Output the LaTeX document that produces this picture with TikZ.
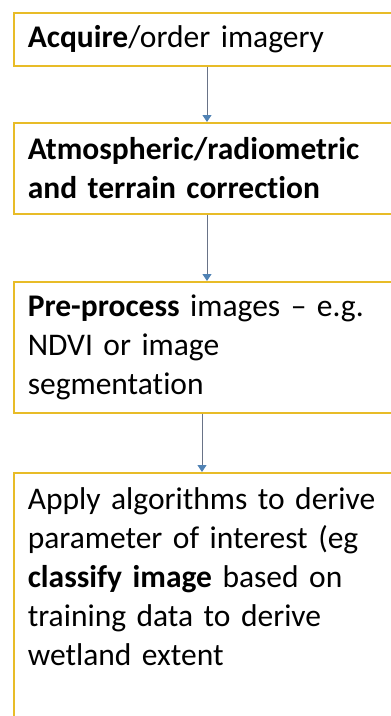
\documentclass[tikz,border=0pt]{standalone}
\usepackage{fontspec}
\setmainfont[Ligatures=CommonOff]{Carlito}
\usetikzlibrary{arrows.meta}
\definecolor{boxgold}{RGB}{232,188,40}
\definecolor{linkgrey}{RGB}{105,115,135}
\definecolor{tipblue}{RGB}{80,130,180}
\begin{document}
\begin{tikzpicture}[x=1pt,y=-1pt,
  stepbox/.style={draw=boxgold, line width=1.6pt, fill=white, anchor=north west,
    minimum width=400pt, text width=372pt, inner xsep=14pt, inner ysep=0pt,
    align=left, font=\fontsize{31.5}{39}\selectfont},
  link/.style={draw=linkgrey, line width=0.9pt,
    -{Triangle[width=9pt,length=7pt,color=tipblue]}}]
  \useasboundingbox (0,0) rectangle (391,716);
  \clip (0,0) rectangle (391,716);
  % process steps
  \node[stepbox, minimum height=53pt] (b1) at (13,12)
    {\textbf{Acquire}/order imagery};
  \node[stepbox, minimum height=91pt] (b2) at (13,122)
    {\textbf{Atmospheric/radiometric and terrain correction}};
  \node[stepbox, minimum height=131pt] (b3) at (13,281)
    {\textbf{Pre-process} images -- e.g.\\NDVI or image\\segmentation};
  \node[stepbox, inner ysep=15pt] (b4) at (13,472)
    {\parbox[c][240pt][t]{372pt}{Apply algorithms to derive\\parameter of interest (eg\\\textbf{classify image} based on\\training data to derive\\wetland extent}};
  % connectors
  \coordinate (ca) at (207,0);
  \coordinate (cb) at (202,0);
  \draw[link] (b1.south -| ca) -- (b2.north -| ca);
  \draw[link] (b2.south -| ca) -- (b3.north -| ca);
  \draw[link] (b3.south -| cb) -- (b4.north -| cb);
\end{tikzpicture}
\end{document}
